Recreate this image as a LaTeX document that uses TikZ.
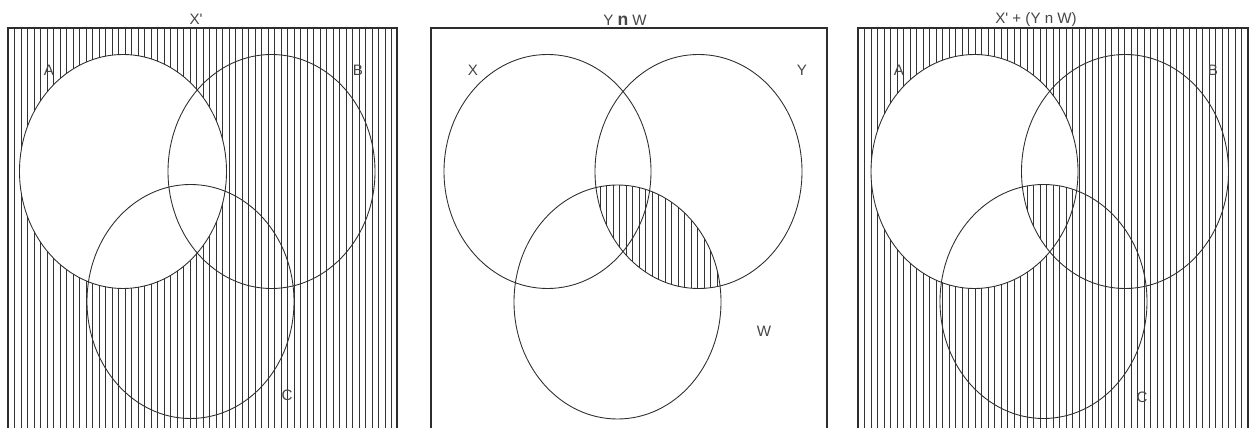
\documentclass[tikz,border=0pt]{standalone}
\usepackage{fontspec}
\setmainfont{Liberation Sans}
\definecolor{inkgray}{RGB}{70,70,70}
\definecolor{linegray}{RGB}{45,45,45}

\begin{document}
\begin{tikzpicture}[x=0.02cm, y=-0.02cm,
  frame/.style={draw=linegray, line width=0.6pt},
  setline/.style={draw=linegray, line width=0.5pt},
  vennsize/.style={x radius=103.5, y radius=117},
  hatch/.style={draw=black!80, line width=0.45pt},
  lab/.style={font=\fontsize{8.6}{10}\selectfont, text=inkgray, inner sep=0pt}
]
\useasboundingbox (0,0) rectangle (1250,428);
\clip (0,0) rectangle (1250,428);

% set centres
\coordinate (a1) at (123,171.5);
\coordinate (b1) at (271.5,171.5);
\coordinate (c1) at (190.5,301.5);
\coordinate (x2) at (547.5,171.5);
\coordinate (y2) at (698.5,171.5);
\coordinate (w2) at (617.5,302);
\coordinate (a3) at (974.5,171.5);
\coordinate (b3) at (1125,171.5);
\coordinate (c3) at (1043.5,301.5);

% panel 1: X'
\begin{scope}[even odd rule]
  \clip (8,28) rectangle (397,440) (a1) ellipse [vennsize];
  \foreach \x in {8,14.5,...,397} \draw[hatch] (\x,28) -- (\x,440);
\end{scope}
\draw[frame] (8,28) rectangle (397,440);
\draw[setline] (a1) ellipse [vennsize];
\draw[setline] (b1) ellipse [vennsize];
\draw[setline] (c1) ellipse [vennsize];
\node[lab] (t1) at (196,19) {X\textquotesingle};
\node[lab] (la1) at (49,70) {A};
\node[lab] (lb1) at (358,70) {B};
\node[lab] (lc1) at (287,395) {C};

% panel 2: Y n W
\begin{scope}
  \clip (y2) ellipse [vennsize];
  \clip (w2) ellipse [vennsize];
  \foreach \x in {431,437.5,...,827} \draw[hatch] (\x,28) -- (\x,440);
\end{scope}
\draw[frame] (431,28) rectangle (827,440);
\draw[setline] (x2) ellipse [vennsize];
\draw[setline] (y2) ellipse [vennsize];
\draw[setline] (w2) ellipse [vennsize];
\node[lab] (t2) at (625,20) {Y {\fontsize{10}{10}\selectfont\textbf{n}} W};
\node[lab] (lx2) at (473,70) {X};
\node[lab] (ly2) at (802,70) {Y};
\node[lab] (lw2) at (764,331) {W};

% panel 3: X' + (Y n W)
\begin{scope}[even odd rule]
  \clip (858,28) rectangle (1248,440) (a3) ellipse [vennsize];
  \foreach \x in {858,864.5,...,1248} \draw[hatch] (\x,28) -- (\x,440);
\end{scope}
\begin{scope}
  \clip (b3) ellipse [vennsize];
  \clip (c3) ellipse [vennsize];
  \foreach \x in {858,864.5,...,1248} \draw[hatch] (\x,28) -- (\x,440);
\end{scope}
\draw[frame] (858,28) rectangle (1248,440);
\draw[setline] (a3) ellipse [vennsize];
\draw[setline] (b3) ellipse [vennsize];
\draw[setline] (c3) ellipse [vennsize];
\node[lab] (t3) at (1036,20) {X\textquotesingle{} + (Y n W)};
\node[lab] (la3) at (899,70) {A};
\node[lab] (lb3) at (1213,70) {B};
\node[lab] (lc3) at (1142,397) {C};
\end{tikzpicture}
\end{document}
